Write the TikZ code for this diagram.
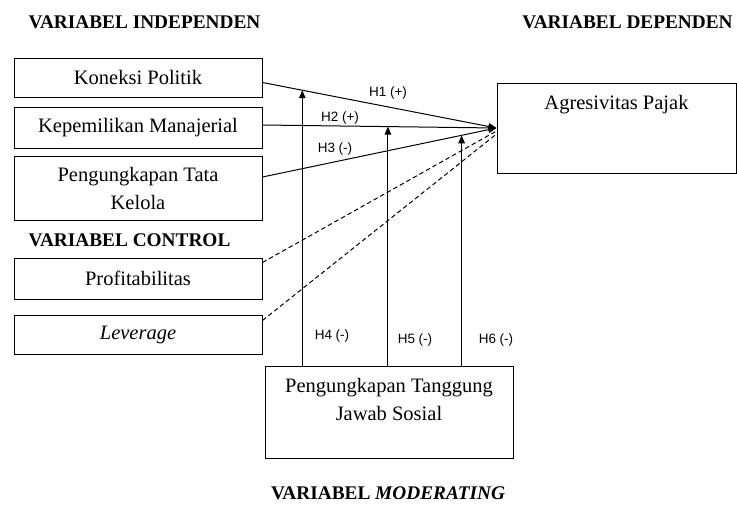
\documentclass[tikz,border=0pt]{standalone}
\usepackage{fontspec}
\setmainfont{Liberation Serif}
\setsansfont{Liberation Sans}
\usetikzlibrary{arrows.meta}
\begin{document}
\begin{tikzpicture}[x=1pt,y=-1pt,
  box/.style={draw, line width=1pt, inner sep=0pt, align=center,
    font=\fontsize{20.5}{28}\selectfont},
  boxtext/.style={inner sep=0pt, align=center, font=\fontsize{20.5}{28}\selectfont},
  hdr/.style={inner sep=0pt, font=\fontsize{19.3}{23}\selectfont\bfseries},
  hyp/.style={inner sep=0pt, font=\sffamily\fontsize{13.5}{16}\selectfont},
  arr/.style={line width=1pt, -{Triangle[length=8pt,width=6.5pt]}},
  dsh/.style={line width=1pt, dash pattern=on 4.5pt off 3pt}]
\useasboundingbox (0,0) rectangle (737,506);
\fill[white] (0,0) rectangle (737,506);
% headers
\node[hdr] (hind) at (144.5,22) {VARIABEL INDEPENDEN};
\node[hdr] (hdep) at (627.5,22) {VARIABEL DEPENDEN};
\node[hdr] (hctl) at (129.5,240) {VARIABEL CONTROL};
\node[hdr] (hmod) at (388,493) {VARIABEL \textit{MODERATING}};
% boxes
\node[box, minimum width=248pt, minimum height=39pt] (kon) at (138,77.5) {Koneksi Politik};
\node[box, minimum width=248pt, minimum height=41pt] (kep) at (138,127.5) {Kepemilikan Manajerial};
\node[box, minimum width=248pt, minimum height=64pt] (tata) at (138,188) {Pengungkapan Tata\\Kelola};
\node[box, minimum width=248pt, minimum height=41pt] (prof) at (138,278.5) {Profitabilitas};
\node[box, minimum width=248pt, minimum height=39pt] (lev) at (138,334.5) {\textit{Leverage}};
\node[box, minimum width=239pt, minimum height=90pt,
  label={[boxtext, anchor=north, yshift=-13pt]north:Agresivitas Pajak}] (dep) at (616.5,128) {};
\node[box, minimum width=248pt, minimum height=92pt,
  label={[boxtext, anchor=north, yshift=-13pt]north:Pengungkapan Tanggung\\Jawab Sosial}] (mod) at (389,412) {};
% main paths
\coordinate (tgt) at (dep.west);
\draw[arr] ([yshift=-5pt]kon.east) -- (tgt) coordinate[pos=0.170] (q1);
\draw[arr] ([yshift=2.5pt]kep.east) -- (tgt) coordinate[pos=0.536] (q2);
\draw[arr] ([yshift=11pt]tata.east) -- (tgt) coordinate[pos=0.851] (q3);
\draw[dsh] ([yshift=16pt]prof.east) -- ([yshift=-3pt]tgt);
\draw[dsh] ([yshift=14pt]lev.east) -- ([yshift=-6pt]tgt);
% moderating arrows
\draw[arr] (q1 |- mod.north) -- (q1);
\draw[arr] (q2 |- mod.north) -- (q2);
\draw[arr] (q3 |- mod.north) -- (q3);
% hypothesis labels
\node[hyp] (h1) at (388,93) {H1 (+)};
\node[hyp] (h2) at (340,118) {H2 (+)};
\node[hyp] (h3) at (335,149) {H3 (-)};
\node[hyp] (h4) at (332,336) {H4 (-)};
\node[hyp] (h5) at (415,340) {H5 (-)};
\node[hyp] (h6) at (496,340) {H6 (-)};
\end{tikzpicture}
\end{document}
